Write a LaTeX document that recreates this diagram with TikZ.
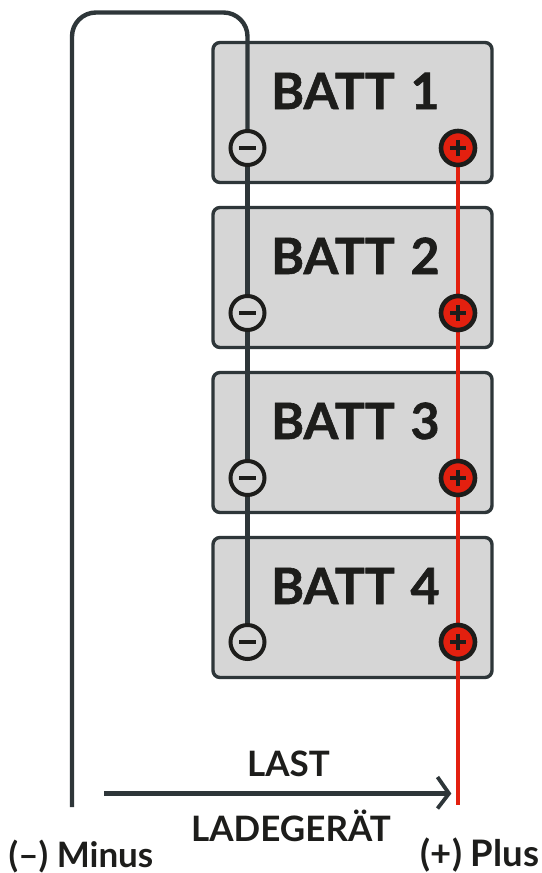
\documentclass[tikz,border=0pt]{standalone}
\usepackage{fontspec}
\setmainfont{Lato}
\newfontfamily\battfont[FakeBold=1.2,WordSpace=1.3]{Lato Bold}
\usetikzlibrary{calc}
\definecolor{wire}{HTML}{2E3639}
\definecolor{ink}{HTML}{1D1D1B}
\definecolor{battfill}{HTML}{D6D6D6}
\definecolor{redw}{HTML}{E3200F}
\tikzset{
  battbox/.style={draw=wire,fill=battfill,line width=3.4pt,rounded corners=7pt,minimum width=279pt,minimum height=140pt,inner sep=0pt,outer sep=0pt},
  battlabel/.style={font=\fontsize{50}{50}\battfont,text=ink,inner sep=0pt,anchor=base west},
  minusterm/.style={circle,draw=ink,fill=battfill,line width=4pt,minimum size=34pt,inner sep=0pt,outer sep=0pt},
  plusterm/.style={circle,draw=ink,fill=redw,line width=4.6pt,minimum size=34pt,inner sep=0pt,outer sep=0pt},
  wireline/.style={draw=wire,line width=4.4pt},
  redline/.style={draw=redw,line width=4.2pt},
  caption/.style={font=\fontsize{35}{35}\selectfont\bfseries,text=ink,inner sep=0pt,anchor=base},
}
\begin{document}
\begin{tikzpicture}[x=1pt,y=-1pt]
\useasboundingbox (0,0) rectangle (541,873);
\fill[white] (0,0) rectangle (541,873);
\foreach \n/\y in {1/112.5,2/277.5,3/442.5,4/607.5}{
  \node[battbox] (b\n) at (352.5,\y) {};
}
\node[battlabel] (t1) at (271,109) {BATT 1};
\node[battlabel] (t2) at (271,274) {BATT 2};
\node[battlabel] (t3) at (271,439) {BATT 3};
\node[battlabel] (t4) at (271,604) {BATT 4};
\coordinate (minusend) at (72,807);
\coordinate (plusend) at (458,805);
\coordinate (arrowstart) at (104,793.5);
\coordinate (arrowend) at (447,793.5);
\coordinate (chevtop) at (437.5,777);
\coordinate (chevtip) at (449,793.5);
\coordinate (chevbot) at (437.5,808.5);
\foreach \n/\y in {1/148,2/313,3/478,4/642}{
  \coordinate (mc\n) at (247.5,\y);
  \coordinate (pc\n) at (458,\y);
}
\coordinate (cornera) at (72,12.5);
\coordinate (cornerb) at (247.5,12.5);
\draw[wireline,rounded corners=24pt] (minusend) -- (cornera) -- (cornerb) -- (mc1);
\draw[wireline] (mc1) -- (mc2) -- (mc3) -- (mc4);
\draw[redline] (pc1) -- (pc2) -- (pc3) -- (pc4) -- (plusend);
\foreach \n in {1,2,3,4}{
  \node[minusterm] (m\n) at (mc\n) {};
  \node[plusterm] (p\n) at (pc\n) {};
  \draw[ink,line width=3.8pt] ($(mc\n)+(-8.5pt,0)$) -- ($(mc\n)+(8.5pt,0)$);
  \draw[ink,line width=3.8pt] ($(pc\n)+(-8pt,0)$) -- ($(pc\n)+(8pt,0)$);
  \draw[ink,line width=3.8pt] ($(pc\n)+(0,-8pt)$) -- ($(pc\n)+(0,8pt)$);
}
\draw[wireline] (arrowstart) -- (arrowend);
\draw[wireline,line width=3.8pt] (chevtop) -- (chevtip) -- (chevbot);
\node[caption] (last) at (288.5,776) {LAST};
\node[caption] (lader) at (291,841) {LADEGERÄT};
\node[caption] (minus) at (81,867) {(–) Minus};
\node[caption,font=\fontsize{36.5}{36.5}\selectfont\bfseries] (plus) at (480,866) {(+) Plus};
\end{tikzpicture}
\end{document}
